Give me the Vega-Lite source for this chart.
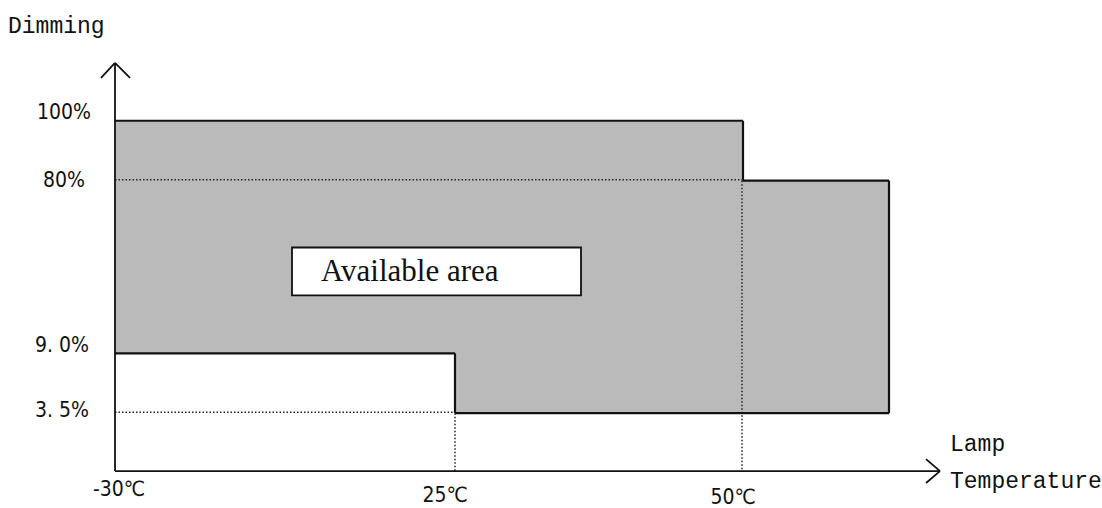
{
  "$schema": "https://vega.github.io/schema/vega-lite/v6.json",
  "autosize": {"type": "fit", "contains": "padding"},
  "width": 1102,
  "height": 508,
  "padding": 0,
  "background": "white",
  "config": {"view": {"stroke": null}},
  "datasets": {
    "fills": [
      {"x": 115, "x2": 743, "y": 121, "y2": 354},
      {"x": 741, "x2": 889, "y": 181, "y2": 414},
      {"x": 455, "x2": 744, "y": 350, "y2": 414}
    ],
    "solid": [
      {"x": 115, "y": 121, "x2": 743, "y2": 121},
      {"x": 743, "y": 121, "x2": 743, "y2": 181},
      {"x": 743, "y": 181, "x2": 889, "y2": 181},
      {"x": 889, "y": 181, "x2": 889, "y2": 414},
      {"x": 889, "y": 414, "x2": 455, "y2": 414},
      {"x": 455, "y": 414, "x2": 455, "y2": 354},
      {"x": 455, "y": 354, "x2": 115, "y2": 354}
    ],
    "axes": [
      {"x": 115, "y": 472, "x2": 115, "y2": 63},
      {"x": 115, "y": 472, "x2": 940, "y2": 472},
      {"x": 101, "y": 78, "x2": 115, "y2": 63},
      {"x": 130, "y": 78, "x2": 115, "y2": 63},
      {"x": 926, "y": 460, "x2": 940, "y2": 472},
      {"x": 926, "y": 484, "x2": 940, "y2": 472}
    ],
    "dotted": [
      {"x": 115, "y": 180, "x2": 743, "y2": 180},
      {"x": 115, "y": 413, "x2": 455, "y2": 413},
      {"x": 455, "y": 414, "x2": 455, "y2": 472},
      {"x": 742, "y": 181, "x2": 742, "y2": 472}
    ],
    "box": [{"x": 292, "x2": 581, "y": 248, "y2": 296, "label": "Available area", "tx": 321, "ty": 282}],
    "ylabels": [
      {"x": 91, "y": 119, "label": "100%"},
      {"x": 85, "y": 187, "label": "80%"},
      {"x": 89, "y": 353, "label": "9. 0%"},
      {"x": 89, "y": 418, "label": "3. 5%"}
    ],
    "xlabels": [
      {"x": 119, "y": 497, "label": "-30℃"},
      {"x": 445, "y": 503, "label": "25℃"},
      {"x": 733, "y": 505, "label": "50℃"}
    ],
    "titles": [
      {"x": 8, "y": 33, "label": "Dimming"},
      {"x": 950, "y": 452, "label": "Lamp"},
      {"x": 950, "y": 489, "label": "Temperature"}
    ]
  },
  "encoding": {
    "x": {"field": "x", "type": "quantitative", "scale": {"domain": [0, 1102], "nice": false, "zero": false}, "axis": null},
    "y": {"field": "y", "type": "quantitative", "scale": {"domain": [508, 0], "nice": false, "zero": false}, "axis": null}
  },
  "layer": [
    {
      "data": {"name": "fills"},
      "mark": {"type": "rect", "color": "#bababa", "strokeWidth": 0},
      "encoding": {"x2": {"field": "x2"}, "y2": {"field": "y2"}}
    },
    {
      "data": {"name": "dotted"},
      "mark": {"type": "rule", "color": "#222", "strokeWidth": 1.5, "strokeDash": [1.5, 2]},
      "encoding": {"x2": {"field": "x2"}, "y2": {"field": "y2"}}
    },
    {
      "data": {"name": "solid"},
      "mark": {"type": "rule", "color": "#111", "strokeWidth": 2.2},
      "encoding": {"x2": {"field": "x2"}, "y2": {"field": "y2"}}
    },
    {
      "data": {"name": "axes"},
      "mark": {"type": "rule", "color": "#111", "strokeWidth": 1.8},
      "encoding": {"x2": {"field": "x2"}, "y2": {"field": "y2"}}
    },
    {
      "data": {"name": "box"},
      "mark": {"type": "rect", "fill": "white", "stroke": "#111", "strokeWidth": 1.8},
      "encoding": {"x2": {"field": "x2"}, "y2": {"field": "y2"}}
    },
    {
      "data": {"name": "box"},
      "mark": {"type": "text", "align": "left", "baseline": "alphabetic", "font": "Liberation Serif", "fontSize": 31, "color": "#111"},
      "encoding": {"x": {"field": "tx"}, "y": {"field": "ty"}, "text": {"field": "label"}}
    },
    {
      "data": {"name": "ylabels"},
      "mark": {"type": "text", "align": "right", "baseline": "alphabetic", "font": "DejaVu Sans Condensed, Roboto", "fontSize": 21, "color": "#111"},
      "encoding": {"text": {"field": "label"}}
    },
    {
      "data": {"name": "xlabels"},
      "mark": {"type": "text", "align": "center", "baseline": "alphabetic", "font": "DejaVu Sans Condensed, Roboto", "fontSize": 21, "color": "#111"},
      "encoding": {"text": {"field": "label"}}
    },
    {
      "data": {"name": "titles"},
      "mark": {"type": "text", "align": "left", "baseline": "alphabetic", "font": "Liberation Mono", "fontSize": 23, "color": "#111"},
      "encoding": {"text": {"field": "label"}}
    }
  ]
}
